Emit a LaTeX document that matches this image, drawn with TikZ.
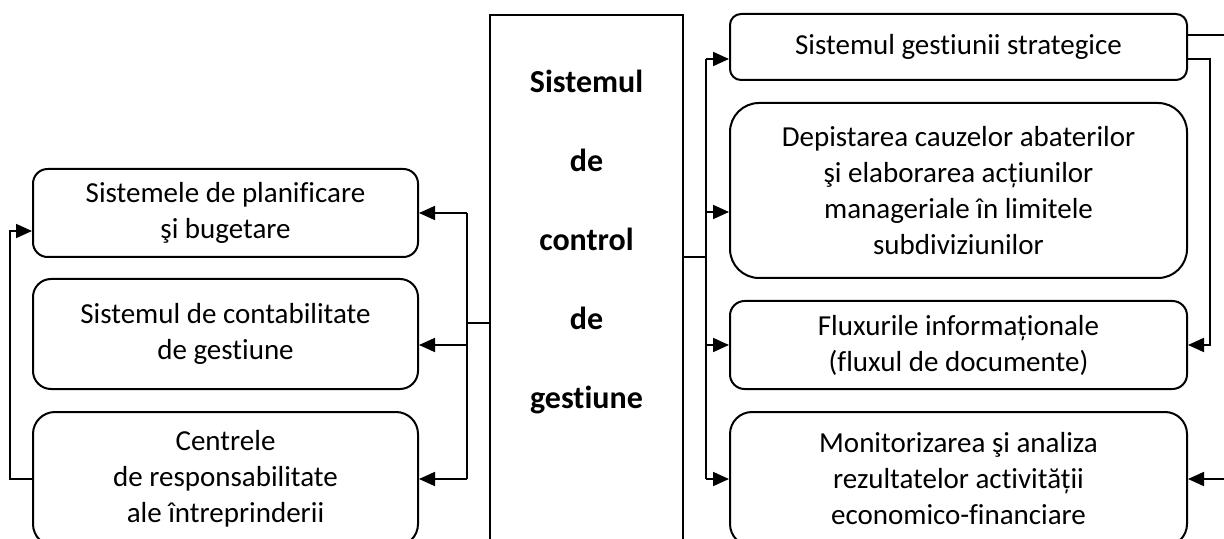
\documentclass[tikz,border=0pt]{standalone}
\usepackage{fontspec}
\setmainfont{Carlito}[Ligatures={NoCommon}]
\usetikzlibrary{arrows.meta, positioning}

\begin{document}
\begin{tikzpicture}[x=0.5pt, y=-0.5pt,
    every node/.style={font=\fontsize{14.5}{18}\selectfont, align=center},
    sysbox/.style={rectangle, draw, line width=1pt, minimum width=96.5pt},
    systext/.style={font=\fontsize{16}{39.5}\selectfont\bfseries},
    lbox/.style={rectangle, rounded corners=#1, draw, line width=1pt, minimum width=192.5pt, inner sep=0pt},
    rbox/.style={rectangle, rounded corners=#1, draw, line width=1pt, minimum width=228.5pt, inner sep=0pt},
    link/.style={line width=0.9pt},
    arr/.style={link, -{Triangle[length=8pt, width=7pt]}},
]
\path[use as bounding box, clip] (0,0) rectangle (1224,539);
% central block, cut by the page bottom
\node[sysbox, minimum height=272.5pt] (ctrl) at (586.5,287.5) {};
\node[systext] (ctrltxt) at (586.5,242) {Sistemul\\de\\control\\de\\gestiune};
\node[lbox=7.3pt, minimum height=44pt] (plan) at (225.5,213) {Sistemele de planificare\\şi bugetare};
\node[lbox=9pt, minimum height=55pt] (cont) at (225.5,334) {Sistemul de contabilitate\\de gestiune};
\node[lbox=11pt, minimum height=67pt] (centre) at (225.5,479) {Centrele\\de responsabilitate\\ale întreprinderii};
\node[rbox=5.5pt, minimum height=33pt] (strat) at (958.5,47) {Sistemul gestiunii strategice};
\node[rbox=14.5pt, minimum height=87.5pt] (dep) at (958.5,190.5) {Depistarea cauzelor abaterilor\\şi elaborarea acțiunilor\\manageriale în limitele\\subdiviziunilor};
\node[rbox=7.3pt, minimum height=44pt] (flux) at (958.5,345) {Fluxurile informaționale\\(fluxul de documente)};
\node[rbox=11pt, minimum height=67pt] (mon) at (958.5,479) {Monitorizarea şi analiza\\rezultatelor activității\\economico-financiare};
\coordinate (lbus) at (467,323);
\coordinate (lcont) at ([yshift=-5.5pt]cont.east);
\draw[link] (ctrl.west |- lbus) -- (lbus);
\draw[link] (lbus |- plan.east) -- (lbus |- centre.east);
\draw[arr] (lbus |- plan.east) -- (plan.east);
\draw[arr] (lbus |- lcont) -- (lcont);
\draw[arr] (lbus |- centre.east) -- (centre.east);
\coordinate (rbus) at (706,257);
\coordinate (rstrat) at ([yshift=-6pt]strat.west);
\coordinate (rdep) at ([yshift=-10.75pt]dep.west);
\draw[link] (ctrl.east |- rbus) -- (rbus);
\draw[link] (rbus |- rstrat) -- (rbus |- mon.west);
\draw[arr] (rbus |- rstrat) -- (rstrat);
\draw[arr] (rbus |- rdep) -- (rdep);
\draw[arr] (rbus |- flux.west) -- (flux.west);
\draw[arr] (rbus |- mon.west) -- (mon.west);
\coordinate (sout) at ([yshift=6pt]strat.east);
\coordinate (sdown) at ([yshift=-6pt]strat.east);
\coordinate (rfb) at (1210,0);
\coordinate (redge) at (1232,0);
\draw[link] (sout) -- (redge |- sout);
\draw[arr] (sdown) -| (rfb |- flux.east) -- (flux.east);
\draw[arr] (redge |- mon.east) -- (mon.east);
\coordinate (lfb) at (10,0);
\coordinate (lplan) at ([yshift=-9pt]plan.west);
\draw[arr] (centre.west) -| (lfb |- lplan) -- (lplan);
\end{tikzpicture}
\end{document}
